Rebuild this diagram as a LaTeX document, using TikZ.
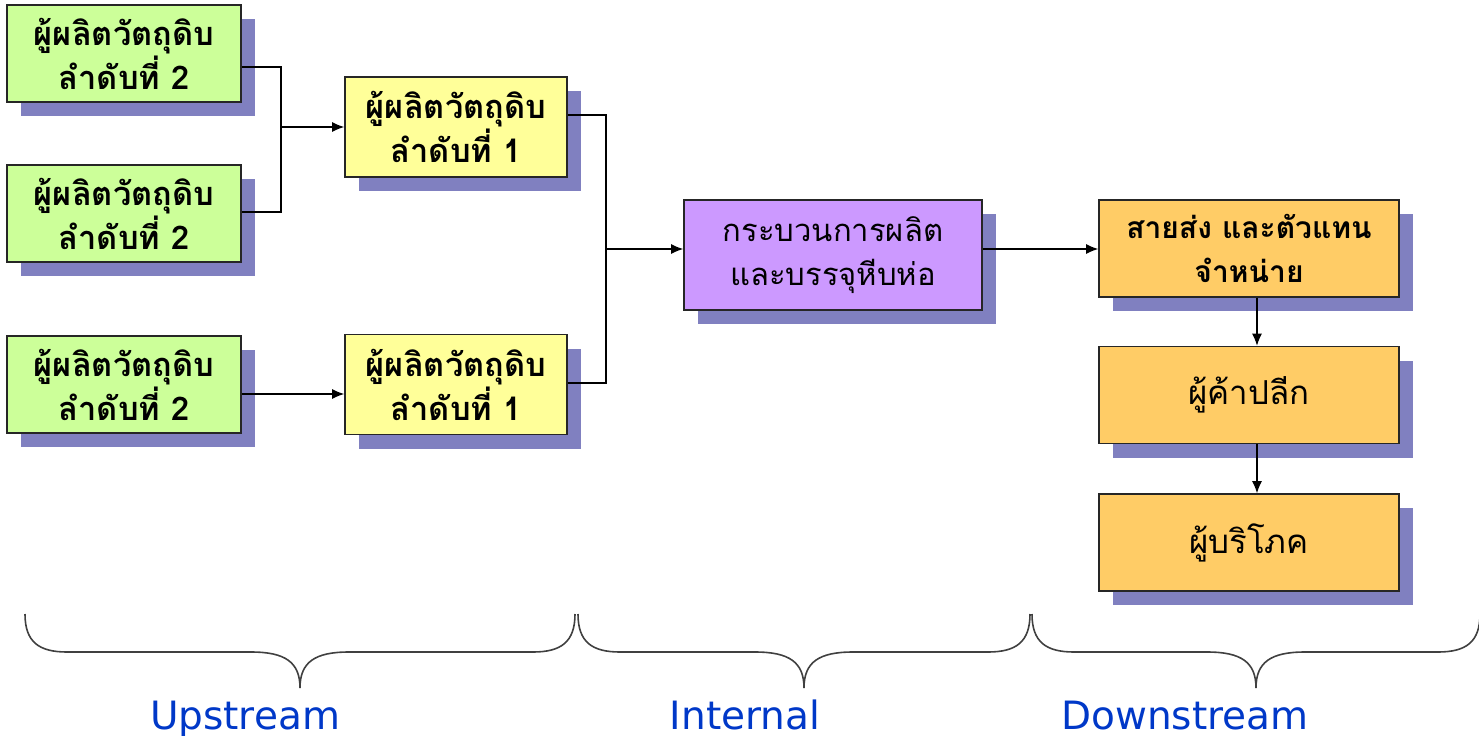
\documentclass[tikz,border=0pt]{standalone}
\usepackage{fontspec}
\newfontfamily\thaifont[Script=Thai]{Loma}
\newfontfamily\labelfont{DejaVu Sans}
\usetikzlibrary{arrows.meta,shadows}
\definecolor{greenbox}{HTML}{CCFF99}
\definecolor{yellowbox}{HTML}{FFFF99}
\definecolor{purplebox}{HTML}{CC99FF}
\definecolor{orangebox}{HTML}{FFCC66}
\definecolor{shadowc}{HTML}{8080C0}
\definecolor{labelblue}{HTML}{0038C8}
\definecolor{bracec}{HTML}{404040}
% curly brace: left end, tip, right end (x positions)
\newcommand\curlybrace[3]{%
  \draw[bracestyle] (#1,614) .. controls (#1,642) and ({#1+14},652) .. ({#1+42},652)
    -- ({#2-49},652) .. controls ({#2-15},652) and (#2,662) .. (#2,688)
    .. controls (#2,662) and ({#2+15},652) .. ({#2+49},652)
    -- ({#3-42},652) .. controls ({#3-14},652) and (#3,642) .. (#3,614);}
\begin{document}
\begin{tikzpicture}[x=0.5pt,y=-0.5pt,
  box/.style={draw=black!85,line width=0.8pt,align=center,inner sep=0pt,
    font=\thaifont\bfseries\fontsize{16.3}{22}\selectfont,
    drop shadow={shadow xshift=7pt,shadow yshift=-7pt,fill=shadowc,opacity=1}},
  greenb/.style={box,fill=greenbox,minimum width=117pt,minimum height=48.5pt},
  yellowb/.style={box,fill=yellowbox,minimum width=111pt,minimum height=50pt},
  purpleb/.style={box,fill=purplebox,minimum width=149pt,minimum height=55pt},
  orangeb/.style={box,fill=orangebox,minimum width=150pt,minimum height=48.5pt},
  regular/.style={font=\thaifont\fontsize{16.5}{22}\selectfont},
  arr/.style={draw=black,line width=0.6pt,-{Latex[length=6pt,width=5pt]}},
  link/.style={draw=black,line width=0.6pt},
  bracestyle/.style={draw=bracec,line width=0.8pt},
  stagelabel/.style={text=labelblue,anchor=base,font=\labelfont\fontsize{19.5}{22}\selectfont}]
\useasboundingbox (0,0) rectangle (1479,735);

% upstream suppliers
\node[greenb] (g1) at (124,53.5) {ผู้ผลิตวัตถุดิบ\\ลำดับที่ 2};
\node[greenb] (g2) at (124,213.5) {ผู้ผลิตวัตถุดิบ\\ลำดับที่ 2};
\node[greenb] (g3) at (124,384.5) {ผู้ผลิตวัตถุดิบ\\ลำดับที่ 2};
\node[yellowb] (y1) at (456,127) {ผู้ผลิตวัตถุดิบ\\ลำดับที่ 1};
\node[yellowb] (y2) at (456,384.5) {ผู้ผลิตวัตถุดิบ\\ลำดับที่ 1};

% internal process
\node[purpleb,font=\thaifont\fontsize{15.5}{22}\selectfont] (p) at (833,255) {กระบวนการผลิต\\และบรรจุหีบห่อ};

% downstream
\node[orangeb,font=\thaifont\bfseries\fontsize{15}{22}\selectfont] (o1) at (1249,248.5) {สายส่ง และตัวแทน\\จำหน่าย};
\node[orangeb,regular] (o2) at (1249,395) {ผู้ค้าปลีก};
\node[orangeb,regular] (o3) at (1249,542.5) {ผู้บริโภค};

% connectors
\coordinate (j1) at (281,127);
\coordinate (j2) at (606,249);
\draw[link] (g1.east |- 0,67) -| (j1);
\draw[link] (g2.east |- 0,212) -| (j1);
\draw[arr] (j1) -- (y1.west);
\draw[arr] (g3.east |- 0,394) -- (y2.west |- 0,394);
\draw[link] (y1.east |- 0,115) -| (j2);
\draw[link] (y2.east |- 0,383) -| (j2);
\draw[arr] (j2) -- (p.west |- j2);
\draw[arr] (p.east |- 0,249) -- (o1.west |- 0,249);
\draw[arr] (o1.south -| 1257,0) -- (o2.north -| 1257,0);
\draw[arr] (o2.south -| 1257,0) -- (o3.north -| 1257,0);

% stage braces
\curlybrace{25}{300}{575}
\curlybrace{578}{804}{1030}
\curlybrace{1032}{1256}{1480}

\node[stagelabel] (up) at (245,729) {Upstream};
\node[stagelabel] (in) at (745,729) {Internal};
\node[stagelabel] (down) at (1185,729) {Downstream};
\end{tikzpicture}
\end{document}
